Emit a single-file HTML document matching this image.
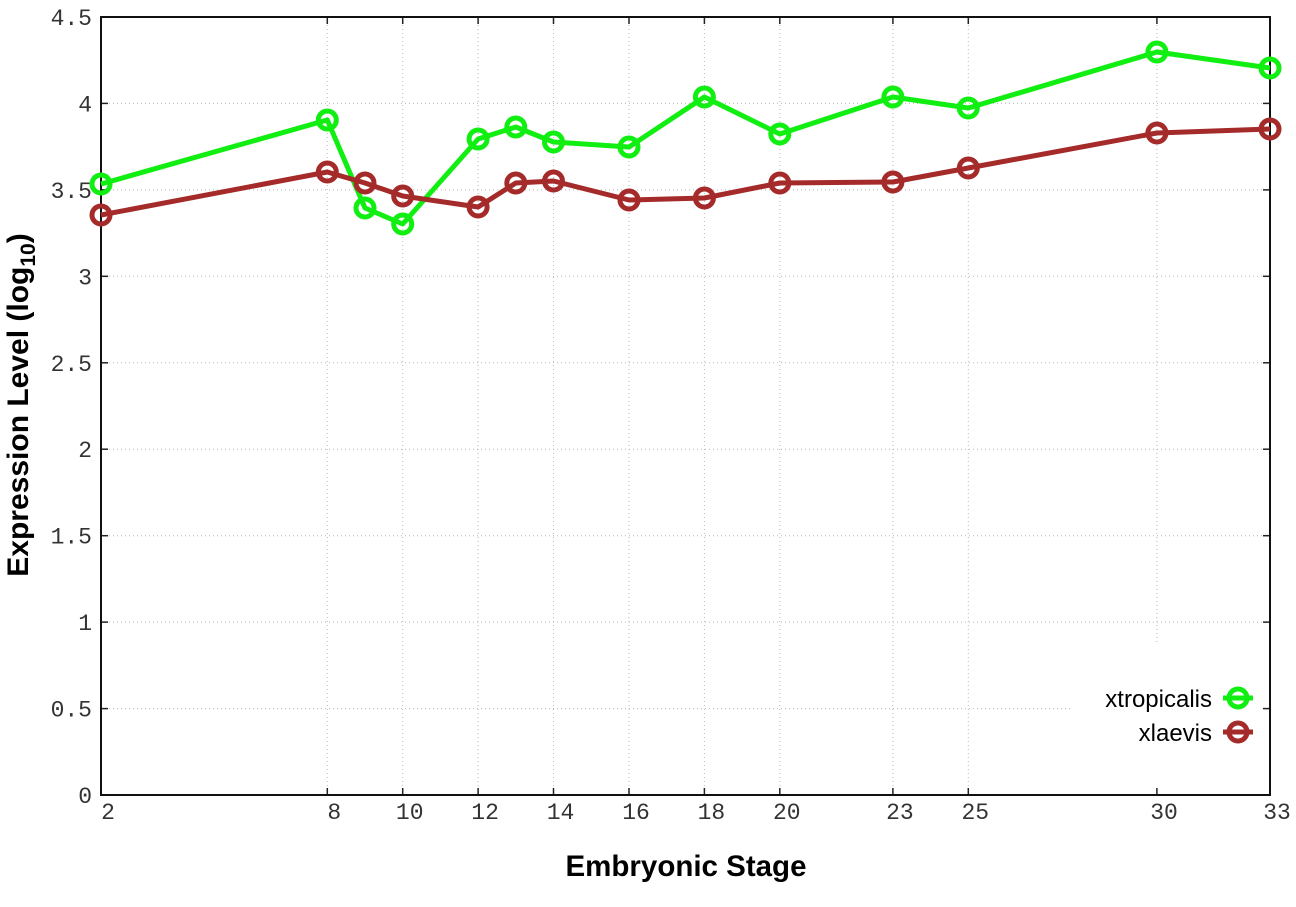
<!DOCTYPE html>
<html><head><meta charset="utf-8"><style>
html,body{margin:0;padding:0;background:#fff;}
svg{display:block;}
</style></head><body>
<svg width="1296" height="907" viewBox="0 0 1296 907" xmlns="http://www.w3.org/2000/svg">
<rect x="0" y="0" width="1296" height="907" fill="#fff"/>
<!-- grid -->
<g stroke="#b8b8b8" stroke-width="1" stroke-dasharray="1,3" fill="none">
<line x1="101" y1="708.6" x2="1072" y2="708.6"/>
<line x1="101" y1="622.1" x2="1270" y2="622.1"/>
<line x1="101" y1="535.7" x2="1270" y2="535.7"/>
<line x1="101" y1="449.2" x2="1270" y2="449.2"/>
<line x1="101" y1="362.8" x2="1270" y2="362.8"/>
<line x1="101" y1="276.3" x2="1270" y2="276.3"/>
<line x1="101" y1="189.9" x2="1270" y2="189.9"/>
<line x1="101" y1="103.4" x2="1270" y2="103.4"/>
<line x1="327.3" y1="17" x2="327.3" y2="795"/>
<line x1="402.7" y1="17" x2="402.7" y2="795"/>
<line x1="478.1" y1="17" x2="478.1" y2="795"/>
<line x1="553.5" y1="17" x2="553.5" y2="795"/>
<line x1="629" y1="17" x2="629" y2="795"/>
<line x1="704.4" y1="17" x2="704.4" y2="795"/>
<line x1="779.8" y1="17" x2="779.8" y2="795"/>
<line x1="892.9" y1="17" x2="892.9" y2="795"/>
<line x1="968.3" y1="17" x2="968.3" y2="795"/>
<line x1="1156.9" y1="17" x2="1156.9" y2="642"/>
</g>
<!-- ticks -->
<g stroke="#222" stroke-width="1.5">
<line x1="101" y1="708.6" x2="108" y2="708.6"/><line x1="1270" y1="708.6" x2="1263" y2="708.6"/>
<line x1="101" y1="622.1" x2="108" y2="622.1"/><line x1="1270" y1="622.1" x2="1263" y2="622.1"/>
<line x1="101" y1="535.7" x2="108" y2="535.7"/><line x1="1270" y1="535.7" x2="1263" y2="535.7"/>
<line x1="101" y1="449.2" x2="108" y2="449.2"/><line x1="1270" y1="449.2" x2="1263" y2="449.2"/>
<line x1="101" y1="362.8" x2="108" y2="362.8"/><line x1="1270" y1="362.8" x2="1263" y2="362.8"/>
<line x1="101" y1="276.3" x2="108" y2="276.3"/><line x1="1270" y1="276.3" x2="1263" y2="276.3"/>
<line x1="101" y1="189.9" x2="108" y2="189.9"/><line x1="1270" y1="189.9" x2="1263" y2="189.9"/>
<line x1="101" y1="103.4" x2="108" y2="103.4"/><line x1="1270" y1="103.4" x2="1263" y2="103.4"/>
<line x1="327.3" y1="795" x2="327.3" y2="788"/><line x1="327.3" y1="17" x2="327.3" y2="24"/>
<line x1="402.7" y1="795" x2="402.7" y2="788"/><line x1="402.7" y1="17" x2="402.7" y2="24"/>
<line x1="478.1" y1="795" x2="478.1" y2="788"/><line x1="478.1" y1="17" x2="478.1" y2="24"/>
<line x1="553.5" y1="795" x2="553.5" y2="788"/><line x1="553.5" y1="17" x2="553.5" y2="24"/>
<line x1="629" y1="795" x2="629" y2="788"/><line x1="629" y1="17" x2="629" y2="24"/>
<line x1="704.4" y1="795" x2="704.4" y2="788"/><line x1="704.4" y1="17" x2="704.4" y2="24"/>
<line x1="779.8" y1="795" x2="779.8" y2="788"/><line x1="779.8" y1="17" x2="779.8" y2="24"/>
<line x1="892.9" y1="795" x2="892.9" y2="788"/><line x1="892.9" y1="17" x2="892.9" y2="24"/>
<line x1="968.3" y1="795" x2="968.3" y2="788"/><line x1="968.3" y1="17" x2="968.3" y2="24"/>
<line x1="1156.9" y1="795" x2="1156.9" y2="788"/><line x1="1156.9" y1="17" x2="1156.9" y2="24"/>
</g>
<!-- border -->
<rect x="101" y="17" width="1169" height="778" fill="none" stroke="#111" stroke-width="2"/>
<!-- y tick labels -->
<g font-family="'Liberation Mono', 'DejaVu Sans Mono', monospace" font-size="23" fill="#333" text-anchor="end">
<text x="92" y="803">0</text>
<text x="92" y="716.6">0.5</text>
<text x="92" y="630.1">1</text>
<text x="92" y="543.7">1.5</text>
<text x="92" y="457.2">2</text>
<text x="92" y="370.8">2.5</text>
<text x="92" y="284.3">3</text>
<text x="92" y="197.9">3.5</text>
<text x="92" y="111.4">4</text>
<text x="92" y="25">4.5</text>
</g>
<!-- x tick labels -->
<g font-family="'Liberation Mono', 'DejaVu Sans Mono', monospace" font-size="23" fill="#333" text-anchor="middle">
<text x="108" y="819">2</text>
<text x="334.3" y="819">8</text>
<text x="409.7" y="819">10</text>
<text x="485.1" y="819">12</text>
<text x="560.5" y="819">14</text>
<text x="636" y="819">16</text>
<text x="711.4" y="819">18</text>
<text x="786.8" y="819">20</text>
<text x="899.9" y="819">23</text>
<text x="975.3" y="819">25</text>
<text x="1164" y="819">30</text>
<text x="1277" y="819">33</text>
</g>
<!-- axis titles -->
<text x="686" y="876" font-family="'Liberation Sans', Arial, sans-serif" font-weight="bold" font-size="29.5" text-anchor="middle" fill="#000">Embryonic Stage</text>
<text transform="translate(28,405) rotate(-90)" font-family="'Liberation Sans', Arial, sans-serif" font-weight="bold" font-size="30" text-anchor="middle" fill="#000">Expression Level (log<tspan font-size="21" dy="7">10</tspan><tspan dy="-7">)</tspan></text>
<!-- series: xtropicalis -->
<g stroke="#11ee11" fill="none" stroke-linejoin="round">
<polyline stroke-width="5" points="101,184 327.3,120 365,208 402.7,224 478.1,139 515.8,127 553.5,142 629,147 704.4,97 779.8,134 892.9,97 968.3,108 1156.9,52 1270,68"/>
<g stroke-width="5">
<circle cx="101" cy="184" r="9"/><circle cx="327.3" cy="120" r="9"/><circle cx="365" cy="208" r="9"/><circle cx="402.7" cy="224" r="9"/><circle cx="478.1" cy="139" r="9"/><circle cx="515.8" cy="127" r="9"/><circle cx="553.5" cy="142" r="9"/><circle cx="629" cy="147" r="9"/><circle cx="704.4" cy="97" r="9"/><circle cx="779.8" cy="134" r="9"/><circle cx="892.9" cy="97" r="9"/><circle cx="968.3" cy="108" r="9"/><circle cx="1156.9" cy="52" r="9"/><circle cx="1270" cy="68" r="9"/>
</g>
</g>
<!-- series: xlaevis -->
<g stroke="#a52a2a" fill="none" stroke-linejoin="round">
<polyline stroke-width="5" points="101,215 327.3,172 365,183 402.7,196 478.1,207 515.8,183 553.5,181 629,200 704.4,198 779.8,183 892.9,182 968.3,168 1156.9,133 1270,129"/>
<g stroke-width="5">
<circle cx="101" cy="215" r="9"/><circle cx="327.3" cy="172" r="9"/><circle cx="365" cy="183" r="9"/><circle cx="402.7" cy="196" r="9"/><circle cx="478.1" cy="207" r="9"/><circle cx="515.8" cy="183" r="9"/><circle cx="553.5" cy="181" r="9"/><circle cx="629" cy="200" r="9"/><circle cx="704.4" cy="198" r="9"/><circle cx="779.8" cy="183" r="9"/><circle cx="892.9" cy="182" r="9"/><circle cx="968.3" cy="168" r="9"/><circle cx="1156.9" cy="133" r="9"/><circle cx="1270" cy="129" r="9"/>
</g>
</g>
<!-- legend -->
<g font-family="'Liberation Sans', Arial, sans-serif" font-size="24" fill="#000" text-anchor="end">
<text x="1212" y="707">xtropicalis</text>
<text x="1212" y="741">xlaevis</text>
</g>
<g fill="none">
<line x1="1223" y1="698" x2="1253" y2="698" stroke="#11ee11" stroke-width="5"/>
<circle cx="1238" cy="698" r="9" stroke="#11ee11" stroke-width="5"/>
<line x1="1223" y1="732" x2="1253" y2="732" stroke="#a52a2a" stroke-width="5"/>
<circle cx="1238" cy="732" r="9" stroke="#a52a2a" stroke-width="5"/>
</g>
</svg>
</body></html>
